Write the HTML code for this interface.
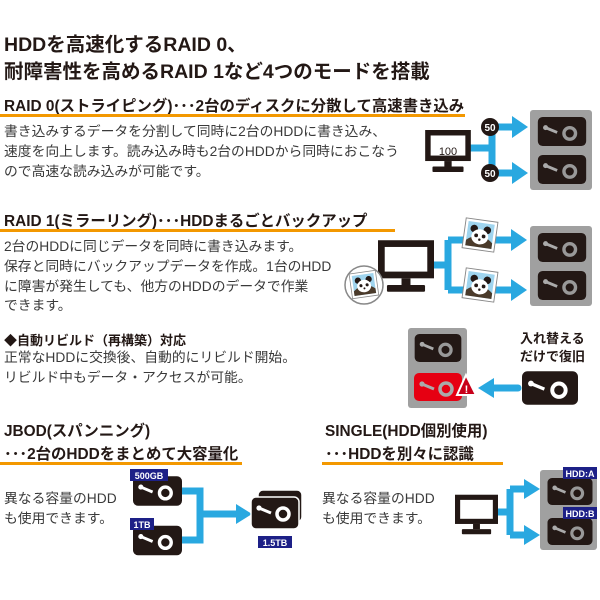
<!DOCTYPE html>
<html><head><meta charset="utf-8"><style>
body{margin:0;width:600px;height:600px;background:#fff;position:relative;overflow:hidden;font-family:"Liberation Sans","Noto Sans CJK JP",sans-serif;color:#231815}
.t{position:absolute;white-space:nowrap}
.h1{font-size:19.5px;font-weight:bold;line-height:27px}
.h2{font-size:15.4px;font-weight:bold}
.b{font-size:13.8px;line-height:19.8px;color:#3a3a3a}
.ul{position:absolute;height:3px;background:#f39800}
svg{position:absolute;left:0;top:0}
</style></head><body>
<svg width="600" height="600" viewBox="0 0 600 600">
<defs>
<symbol id="hw" viewBox="0 0 50 30"><rect x="0" y="0" width="50" height="30" rx="5" fill="#231815"/><circle cx="8" cy="11" r="2.6" fill="#fff"/><line x1="8" y1="11" x2="20" y2="16" stroke="#fff" stroke-width="3"/><circle cx="33" cy="17" r="6" fill="none" stroke="#fff" stroke-width="3.5"/></symbol>
<symbol id="hg" viewBox="0 0 50 30"><rect x="0" y="0" width="50" height="30" rx="5" fill="#231815"/><circle cx="8" cy="11" r="2.6" fill="#aaa"/><line x1="8" y1="11" x2="20" y2="16" stroke="#aaa" stroke-width="3"/><circle cx="33" cy="17" r="6" fill="none" stroke="#999" stroke-width="3.5"/></symbol>
<symbol id="mon" viewBox="0 0 50 46"><rect x="0" y="0" width="50" height="34" fill="#231815"/><rect x="6" y="6" width="38" height="22" fill="#fff"/><rect x="21" y="34" width="8" height="6" fill="#231815"/><rect x="8" y="40" width="34" height="6" rx="1" fill="#231815"/></symbol>
<symbol id="panda" viewBox="0 0 36 34"><rect x="1" y="1" width="34" height="32" fill="#fff" stroke="#888"/><rect x="4" y="4" width="28" height="26" fill="#9fd4ee"/><path d="M4 30 L4 24 Q18 12 32 24 L32 30Z" fill="#4a3a2a"/><circle cx="11" cy="11" r="4" fill="#231815"/><circle cx="25" cy="11" r="4" fill="#231815"/><ellipse cx="18" cy="19" rx="9" ry="8" fill="#fff"/><circle cx="14" cy="18" r="2" fill="#231815"/><circle cx="22" cy="18" r="2" fill="#231815"/><circle cx="18" cy="22" r="1.3" fill="#231815"/></symbol>
</defs>
<!-- RAID0 -->
<rect x="530" y="110" width="62" height="80" rx="3" fill="#a0a0a0"/>
<use href="#hg" x="537" y="117" width="50" height="29"/>
<use href="#hg" x="537" y="155" width="50" height="29"/>
<g stroke="#29a8e0" stroke-width="7" fill="none"><path d="M470 148 H492 M492 127 V173 M492 127 H518 M492 173 H518"/></g>
<path d="M512 116 L528 127 L512 138Z M512 162 L528 173 L512 184Z" fill="#29a8e0"/>
<use href="#mon" x="425" y="130" width="46" height="42"/>
<text x="448" y="155" font-size="11" text-anchor="middle" fill="#231815" font-family="Liberation Sans">100</text>
<circle cx="490" cy="127" r="9" fill="#231815"/><circle cx="490" cy="173" r="9" fill="#231815"/>
<text x="490" y="131" font-size="10" font-weight="bold" fill="#fff" text-anchor="middle">50</text>
<text x="490" y="177" font-size="10" font-weight="bold" fill="#fff" text-anchor="middle">50</text>
<!-- RAID1 -->
<rect x="530" y="226" width="62" height="80" rx="3" fill="#a0a0a0"/>
<use href="#hg" x="537" y="233" width="50" height="29"/>
<use href="#hg" x="537" y="271" width="50" height="29"/>
<g stroke="#29a8e0" stroke-width="7" fill="none"><path d="M432 265 H448 M448 240 V290 M448 240 H518 M448 290 H518"/></g>
<path d="M511 229 L527 240 L511 251Z M511 279 L527 290 L511 301Z" fill="#29a8e0"/>
<use href="#mon" x="378" y="240" width="56" height="52"/>
<use href="#panda" x="463" y="219" width="34" height="32" transform="rotate(8 480 235)"/>
<use href="#panda" x="463" y="269" width="34" height="32" transform="rotate(8 480 285)"/>
<circle cx="364" cy="285" r="19" fill="#fff" stroke="#888" stroke-width="1.5"/>
<use href="#panda" x="350" y="271" width="28" height="27" transform="rotate(-8 364 285)"/>
<!-- rebuild -->
<rect x="408" y="328" width="59" height="80" rx="3" fill="#a0a0a0"/>
<use href="#hg" x="414" y="334" width="48" height="28"/>
<rect x="414" y="373" width="48" height="28" rx="5" fill="#e60012"/>
<circle cx="422" cy="384" r="2.6" fill="#aaa"/><line x1="422" y1="384" x2="434" y2="389" stroke="#aaa" stroke-width="3"/><circle cx="446" cy="389" r="6" fill="none" stroke="#aaa" stroke-width="3.5"/>
<path d="M466 375 L457 395 L476 395Z" fill="#c8001a" stroke="#fff" stroke-width="2"/>
<text x="466.5" y="393" font-size="11" font-weight="bold" fill="#fff" text-anchor="middle">!</text>
<path d="M518 388 H492" stroke="#29a8e0" stroke-width="7" stroke-linecap="round"/>
<path d="M494 378 L478 388 L494 398Z" fill="#29a8e0"/>
<use href="#hw" x="522" y="371" width="56" height="34"/>
<!-- JBOD -->
<g stroke="#29a8e0" stroke-width="7" fill="none"><path d="M182 491 H200 V540 H182 M200 514 H240"/></g>
<path d="M236 504 L252 514 L236 524Z" fill="#29a8e0"/>
<use href="#hw" x="133" y="476" width="49" height="30"/>
<use href="#hw" x="133" y="525" width="49" height="31"/>
<rect x="130" y="469" width="38" height="12" fill="#1d2087"/>
<text x="149" y="479" font-size="9" font-weight="bold" fill="#fff" text-anchor="middle">500GB</text>
<rect x="130" y="518" width="24" height="12" fill="#1d2087"/>
<text x="142" y="528" font-size="9" font-weight="bold" fill="#fff" text-anchor="middle">1TB</text>
<rect x="258" y="490" width="44" height="32" rx="5" fill="#231815" stroke="#fff" stroke-width="1.5"/>
<rect x="251" y="497" width="48" height="32" rx="5" fill="#231815" stroke="#fff" stroke-width="1.5"/>
<circle cx="259" cy="508" r="2.6" fill="#fff"/><line x1="259" y1="508" x2="271" y2="513" stroke="#fff" stroke-width="3"/><circle cx="283" cy="514" r="6" fill="none" stroke="#fff" stroke-width="3.5"/>
<rect x="258" y="536" width="34" height="12" fill="#1d2087"/>
<text x="275" y="546" font-size="9" font-weight="bold" fill="#fff" text-anchor="middle">1.5TB</text>
<!-- SINGLE -->
<rect x="540" y="470" width="57" height="80" rx="3" fill="#a0a0a0"/>
<use href="#hg" x="547" y="478" width="46" height="27"/>
<use href="#hg" x="547" y="518" width="46" height="27"/>
<g stroke="#29a8e0" stroke-width="7" fill="none"><path d="M497 512 H510 M510 489 V535 M510 489 H528 M510 535 H528"/></g>
<path d="M524 479 L540 489 L524 499Z M524 525 L540 535 L524 545Z" fill="#29a8e0"/>
<use href="#mon" x="455" y="494" width="43" height="41"/>
<rect x="563" y="467" width="34" height="12" fill="#1d2087"/>
<text x="580" y="477" font-size="9" font-weight="bold" fill="#fff" text-anchor="middle">HDD:A</text>
<rect x="563" y="507" width="34" height="12" fill="#1d2087"/>
<text x="580" y="517" font-size="9" font-weight="bold" fill="#fff" text-anchor="middle">HDD:B</text>
</svg>

<div class="t h1" style="left:4px;top:32px">HDDを高速化するRAID 0、</div>
<div class="t h1" style="left:4px;top:59px">耐障害性を高めるRAID 1など4つのモードを搭載</div>

<div class="t h2" style="left:4px;top:94px">RAID 0(ストライピング)･･･2台のディスクに分散して高速書き込み</div>
<div class="ul" style="left:0;top:114px;width:465px"></div>
<div class="t b" style="left:4px;top:122px">書き込みするデータを分割して同時に2台のHDDに書き込み、<br>速度を向上します。読み込み時も2台のHDDから同時におこなう<br>ので高速な読み込みが可能です。</div>

<div class="t h2" style="left:4px;top:209px">RAID 1(ミラーリング)･･･HDDまるごとバックアップ</div>
<div class="ul" style="left:0;top:229px;width:395px"></div>
<div class="t b" style="left:4px;top:237px">2台のHDDに同じデータを同時に書き込みます。<br>保存と同時にバックアップデータを作成。1台のHDD<br>に障害が発生しても、他方のHDDのデータで作業<br>できます。</div>

<div class="t" style="left:4px;top:330px;font-size:13px;font-weight:bold">◆自動リビルド（再構築）対応</div>
<div class="t b" style="left:4px;top:348px">正常なHDDに交換後、自動的にリビルド開始。<br>リビルド中もデータ・アクセスが可能。</div>
<div class="t" style="left:520px;top:330px;font-size:13px;font-weight:bold;line-height:18px">入れ替える<br>だけで復旧</div>

<div class="t h2" style="left:4px;top:420px;line-height:23px">JBOD(スパンニング)<br>･･･2台のHDDをまとめて大容量化</div>
<div class="ul" style="left:0;top:462px;width:242px"></div>
<div class="t h2" style="left:325px;top:420px;line-height:23px">SINGLE(HDD個別使用)<br>･･･HDDを別々に認識</div>
<div class="ul" style="left:322px;top:462px;width:181px"></div>

<div class="t b" style="left:4px;top:489px">異なる容量のHDD<br>も使用できます。</div>
<div class="t b" style="left:322px;top:489px">異なる容量のHDD<br>も使用できます。</div>
</body></html>
